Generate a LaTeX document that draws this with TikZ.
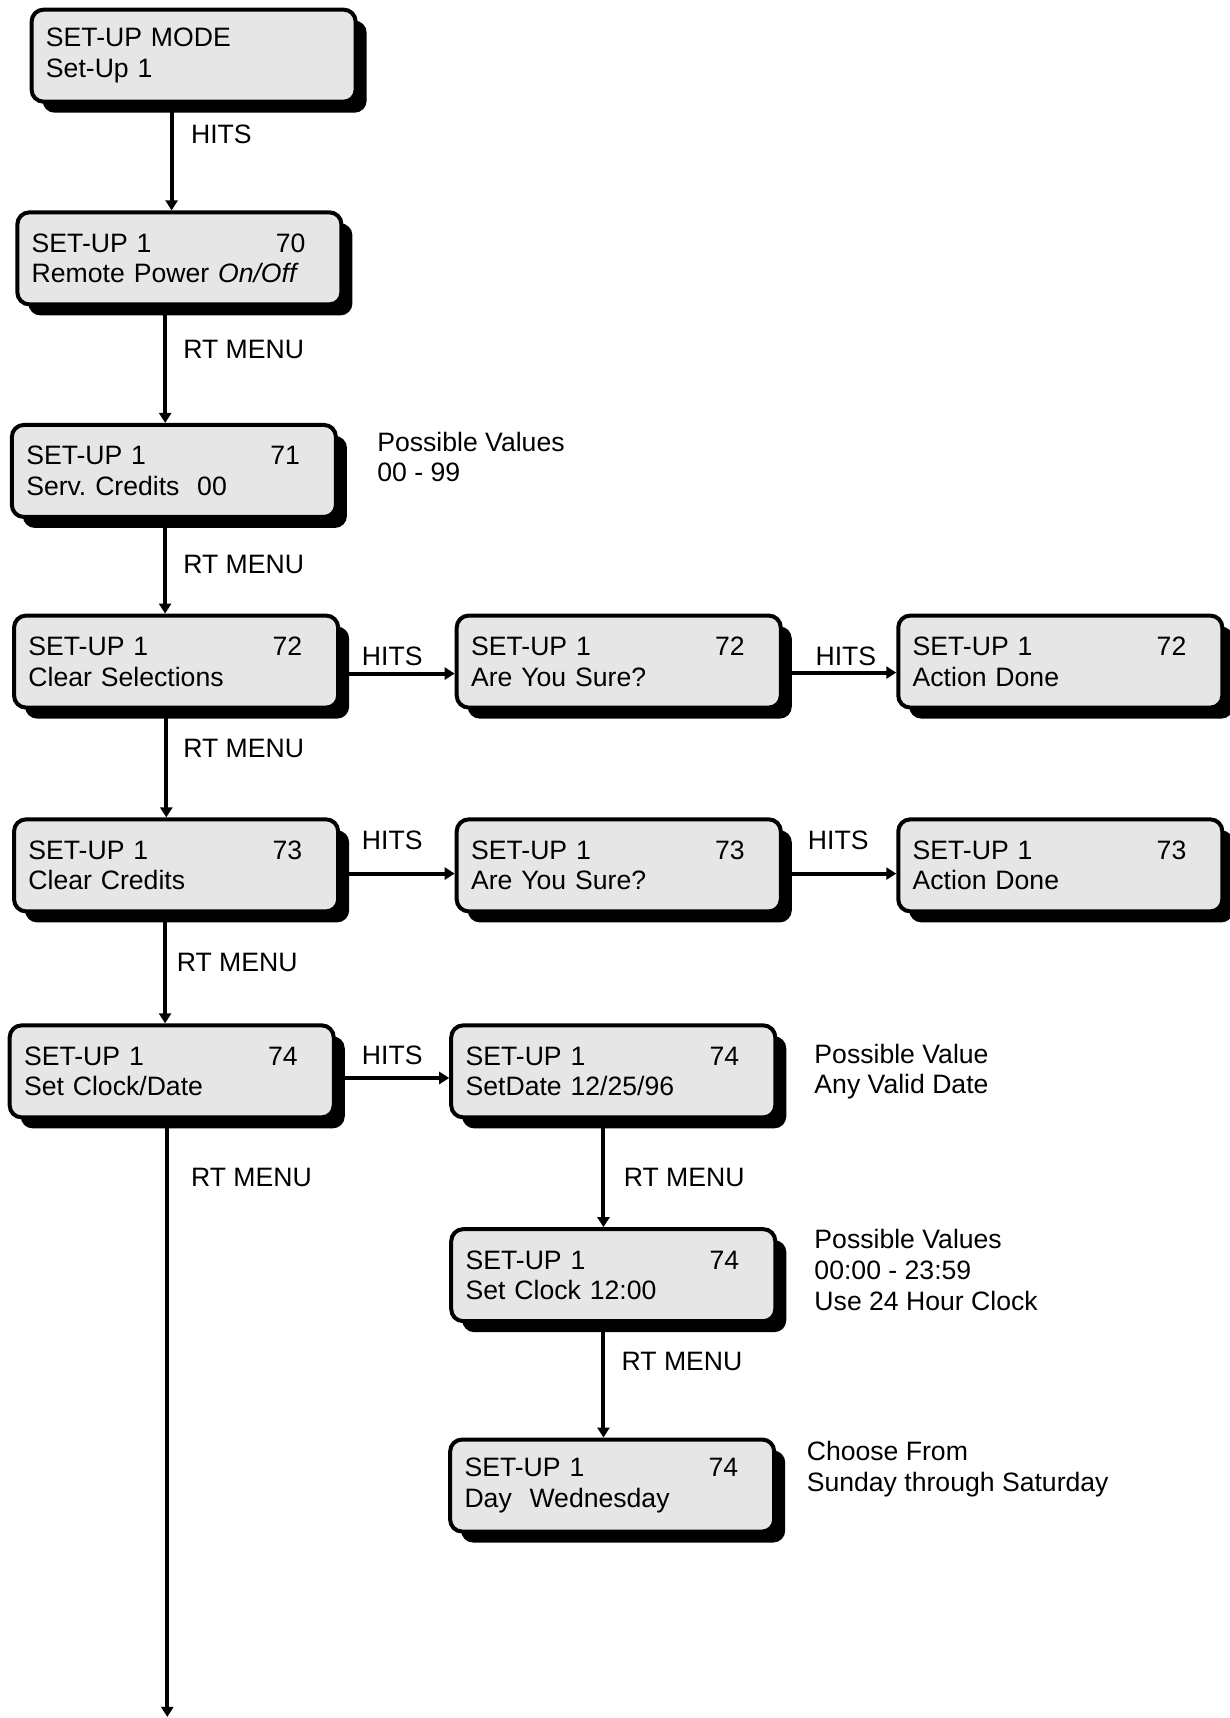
\documentclass[tikz,border=0pt]{standalone}
\usepackage{fontspec}
\setmainfont{Liberation Sans}
\usetikzlibrary{shadows,arrows.meta}
\definecolor{panelgray}{RGB}{230,230,230}
\frenchspacing
\tikzset{
  panel/.style={draw, line width=2pt, rounded corners=6pt, fill=panelgray, anchor=north west,
    minimum height=46pt, text width=147.6pt, inner xsep=7.2pt, inner ysep=0pt, align=left,
    font=\fontsize{13.3}{15.3}\selectfont,
    drop shadow={shadow xshift=5.5pt, shadow yshift=-5.5pt, fill=black, opacity=1}},
  flow/.style={line width=2pt, -{Triangle[length=5pt,width=6pt]}},
  lbl/.style={anchor=west, inner sep=0pt, font=\fontsize{13.3}{15.3}\selectfont},
  note/.style={lbl, align=left},
}
\newcommand{\panelhead}[1]{\makebox[122pt][l]{SET-UP 1}#1}
\begin{document}
\begin{tikzpicture}[x=0.5477pt, y=-0.5477pt]
  \useasboundingbox (0,0) rectangle (1122,1568);
  % main column
  \node[panel] (setup) at (27,7) {SET-UP MODE\\Set-Up 1};
  \node[panel] (s70) at (14,192) {\panelhead{70}\\Remote Power \textit{On/Off}};
  \node[panel] (s71) at (9,386) {\panelhead{71}\\Serv. Credits\ \ 00};
  \node[panel] (s72) at (11,560) {\panelhead{72}\\Clear Selections};
  \node[panel] (s73) at (11,746) {\panelhead{73}\\Clear Credits};
  \node[panel] (s74) at (7,934) {\panelhead{74}\\Set Clock/Date};
  % confirm screens
  \node[panel] (sure72) at (415,560) {\panelhead{72}\\Are You Sure?};
  \node[panel] (done72) at (818,560) {\panelhead{72}\\Action Done};
  \node[panel] (sure73) at (415,746) {\panelhead{73}\\Are You Sure?};
  \node[panel] (done73) at (818,746) {\panelhead{73}\\Action Done};
  % clock screens
  \node[panel] (date) at (410,934) {\panelhead{74}\\SetDate 12/25/96};
  \node[panel] (clock) at (410,1120) {\panelhead{74}\\Set Clock 12:00};
  \node[panel] (day) at (409,1312) {\panelhead{74}\\Day\ \ Wednesday};
  \coordinate (bottom) at (153,1567);

  % connectors
  \draw[flow] ([xshift=-11pt]setup.south) -- ([xshift=-11pt]setup.south |- s70.north);
  \draw[flow] ([xshift=-7.1pt]s70.south) -- ([xshift=-7.1pt]s70.south |- s71.north);
  \draw[flow] ([xshift=-4.4pt]s71.south) -- ([xshift=-4.4pt]s71.south |- s72.north);
  \draw[flow] ([xshift=-4.9pt]s72.south) -- ([xshift=-4.9pt]s72.south |- s73.north);
  \draw[flow] ([xshift=-5.5pt]s73.south) -- ([xshift=-5.5pt]s73.south |- s74.north);
  \draw[flow] ([xshift=-2.2pt]s74.south) -- ([xshift=-2.2pt]s74.south |- bottom);
  \draw[flow] ([yshift=-6pt]s72.east) -- ([yshift=-6pt]s72.east -| sure72.west);
  \draw[flow] ([yshift=-5.5pt]sure72.east) -- ([yshift=-5.5pt]sure72.east -| done72.west);
  \draw[flow] ([yshift=-4.1pt]s73.east) -- ([yshift=-4.1pt]s73.east -| sure73.west);
  \draw[flow] ([yshift=-4.1pt]sure73.east) -- ([yshift=-4.1pt]sure73.east -| done73.west);
  \draw[flow] ([yshift=-3.3pt]s74.east) -- ([yshift=-3.3pt]s74.east -| date.west);
  \draw[flow] ([xshift=-4.9pt]date.south) -- ([xshift=-4.9pt]date.south |- clock.north);
  \draw[flow] ([xshift=-4.9pt]clock.south) -- ([xshift=-4.9pt]clock.south |- day.north);

  % connector labels
  \node[lbl] (l1) at (174,123) {HITS};
  \node[lbl] (l2) at (167,319) {RT MENU};
  \node[lbl] (l3) at (167,515) {RT MENU};
  \node[lbl] (l4) at (167,683) {RT MENU};
  \node[lbl] (l5) at (161,878) {RT MENU};
  \node[lbl] (l6) at (174,1075) {RT MENU};
  \node[lbl] (l7) at (330,599) {HITS};
  \node[lbl] (l8) at (744,599) {HITS};
  \node[lbl] (l9) at (330,767) {HITS};
  \node[lbl] (l10) at (737,767) {HITS};
  \node[lbl] (l11) at (330,963) {HITS};
  \node[lbl] (l12) at (569,1075) {RT MENU};
  \node[lbl] (l13) at (567,1243) {RT MENU};

  % side notes
  \node[note] (n71) at (344,417) {Possible Values\\00 - 99};
  \node[note] (ndate) at (743,978) {Possible Value\\Any Valid Date};
  \node[note] (nclock) at (743,1159) {Possible Values\\00:00 - 23:59\\Use 24 Hour Clock};
  \node[note] (nday) at (736,1341) {Choose From\\Sunday through Saturday};
\end{tikzpicture}
\end{document}
